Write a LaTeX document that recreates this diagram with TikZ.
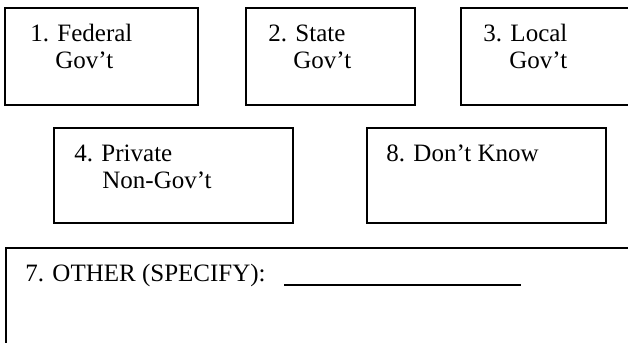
\documentclass[tikz,border=0pt]{standalone}
\usepackage{fontspec}
\setmainfont{Liberation Serif}
\usepackage{tikz}

\begin{document}
\begin{tikzpicture}[x=0.5pt,y=-0.5pt,
  box/.style={draw, line width=0.9pt, anchor=north west, inner sep=0pt, outer sep=0pt},
  txt/.style={anchor=base west, inner sep=0pt, font=\fontsize{12.5}{13.5}\selectfont}]
  \useasboundingbox (0,0) rectangle (628,343);
  % first row
  \node[box, minimum width=96.5pt, minimum height=48.5pt] (fed) at (5,8) {};
  \node[box, minimum width=84.5pt, minimum height=48.5pt] (state) at (246,8) {};
  \node[box, minimum width=100pt, minimum height=48.5pt] (local) at (461,8) {};
  \node[txt] (fedA) at ([shift={(25,33)}]fed.north west) {1. Federal};
  \node[txt] (fedB) at ([shift={(50,60)}]fed.north west) {Gov't};
  \node[txt] (stateA) at ([shift={(22,33)}]state.north west) {2. State};
  \node[txt] (stateB) at ([shift={(47,60)}]state.north west) {Gov't};
  \node[txt] (localA) at ([shift={(22,33)}]local.north west) {3. Local};
  \node[txt] (localB) at ([shift={(48,60)}]local.north west) {Gov't};
  % second row
  \node[box, minimum width=119.5pt, minimum height=47.5pt] (priv) at (54,128) {};
  \node[box, minimum width=119.5pt, minimum height=47.5pt] (dk) at (367,128) {};
  \node[txt] (privA) at ([shift={(20,33)}]priv.north west) {4. Private};
  \node[txt] (privB) at ([shift={(48,60)}]priv.north west) {Non-Gov't};
  \node[txt] (dkA) at ([shift={(19,33)}]dk.north west) {8. Don't Know};
  % other
  \node[box, minimum width=330pt, minimum height=70pt] (other) at (6,248) {};
  \node[txt] (otherA) at ([shift={(19,33)}]other.north west) {7. OTHER (SPECIFY):};
  \coordinate (lineL) at (284,285);
  \coordinate (lineR) at (521,285);
  \draw[line width=0.9pt] (lineL) -- (lineR);
\end{tikzpicture}
\end{document}
